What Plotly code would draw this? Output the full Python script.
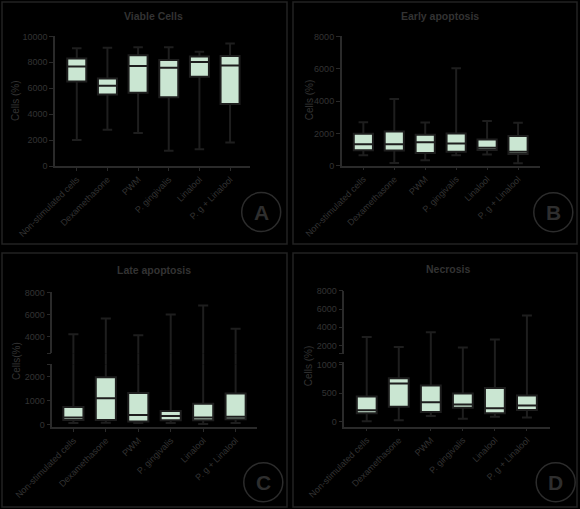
import plotly.graph_objects as go

W, H = 580, 509

groups = ["Non-stimulated cells", "Dexamethasone", "PWM",
          "P. gingivalis", "Linalool", "P. g + Linalool"]

# Viable cells
viable_low = [2000, 2800, 2550, 1180, 1300, 1820]
viable_q1 = [6520, 5520, 5650, 5300, 6880, 4780]
viable_med = [7680, 6190, 7720, 7570, 8030, 7750]
viable_q3 = [8290, 6750, 8540, 8180, 8440, 8490]
viable_high = [9080, 9130, 9160, 9160, 8820, 9440]

# Early apoptosis
early_low = [650, 160, 330, 640, 700, 150]
early_q1 = [960, 940, 780, 870, 970, 730]
early_med = [1320, 1330, 1450, 1380, 1110, 860]
early_q3 = [1970, 2120, 1910, 1990, 1620, 1830]
early_high = [2680, 4120, 2670, 6030, 2770, 2650]

# Late apoptosis
late_low = [70, 80, 70, 70, 30, 70]
late_q1 = [190, 190, 130, 180, 180, 220]
late_med = [300, 1110, 400, 360, 300, 330]
late_q3 = [740, 1990, 1330, 570, 880, 1300]
late_high = [4250, 5660, 4150, 6020, 6820, 4740]

# Necrosis
necro_low = [5, 25, 100, 50, 85, 70]
necro_q1 = [145, 260, 170, 245, 145, 205]
necro_med = [200, 670, 340, 300, 235, 285]
necro_q3 = [440, 765, 635, 495, 590, 460]
necro_high = [2910, 1810, 3440, 1770, 2640, 5300]

TXT = "#333333"
AX = "#2a2a2a"
FILL = "#cae6d2"
BOXLINE = "#1e1e1e"
FONT = "Liberation Sans, Arial, sans-serif"


def px(x):
    return x / W


def py(y):
    return 1 - y / H


def add_boxes(fig, low, q1, med, q3, high, xa, ya):
    fig.add_trace(go.Box(
        x=groups, lowerfence=low, q1=q1, median=med, q3=q3, upperfence=high,
        xaxis=xa, yaxis=ya, fillcolor=FILL,
        line=dict(color=BOXLINE, width=2), width=0.62, whiskerwidth=0.5,
        boxpoints=False, showlegend=False, hoverinfo="skip",
    ))


def xaxis_def(x0, x1, rng, anchor):
    return dict(domain=[px(x0), px(x1)], range=rng, anchor=anchor,
                type="category", showline=True, linecolor=AX, linewidth=1.5,
                ticks="outside", ticklen=3, tickcolor=AX, tickwidth=1.2,
                tickangle=-45, tickfont=dict(size=9, color=TXT, family=FONT),
                showgrid=False, zeroline=False, automargin=False)


def yaxis_def(top, bottom, rng, anchor, tickvals, ticktext):
    return dict(domain=[py(bottom), py(top)], range=rng, anchor=anchor,
                showline=True, linecolor=AX, linewidth=1.5,
                ticks="outside", ticklen=4, tickcolor=AX, tickwidth=1.2,
                tickvals=tickvals, ticktext=ticktext,
                tickfont=dict(size=9, color=TXT, family=FONT),
                showgrid=False, zeroline=False, automargin=False)


def gap_axis(top, bottom, rng, anchor):
    # invisible strip between the two halves of a broken axis,
    # only there so the whiskers run through the break
    return dict(domain=[py(bottom), py(top)], range=rng, anchor=anchor,
                visible=False, showgrid=False, zeroline=False)


def label(fig, text, x, y, size, color=TXT, angle=0):
    fig.add_annotation(text=text, x=px(x), y=py(y), xref="paper", yref="paper",
                       xanchor="center", yanchor="middle", showarrow=False,
                       textangle=angle, font=dict(size=size, color=color, family=FONT))


fig = go.Figure()

add_boxes(fig, viable_low, viable_q1, viable_med, viable_q3, viable_high, "x", "y")
add_boxes(fig, early_low, early_q1, early_med, early_q3, early_high, "x2", "y2")
for ya in ["y3", "y5", "y7"]:
    add_boxes(fig, late_low, late_q1, late_med, late_q3, late_high, "x3", ya)
for ya in ["y4", "y6", "y8"]:
    add_boxes(fig, necro_low, necro_q1, necro_med, necro_q3, necro_high, "x4", ya)

fig.update_layout(
    width=W, height=H,
    margin=dict(l=0, r=0, t=0, b=0),
    paper_bgcolor="#000000", plot_bgcolor="rgba(0,0,0,0)",
    font=dict(family=FONT, color=TXT),
    xaxis=xaxis_def(55, 250, [-0.71, 5.65], "y"),
    xaxis2=xaxis_def(341.7, 540, [-0.70, 5.71], "y2"),
    xaxis3=xaxis_def(52.3, 256.7, [-0.65, 5.65], "y3"),
    xaxis4=xaxis_def(344.3, 550, [-0.70, 5.72], "y4"),
    yaxis=yaxis_def(35.7, 166, [0, 10050], "x",
                    [0, 2000, 4000, 6000, 8000, 10000],
                    ["0", "2000", "4000", "6000", "8000", "10000"]),
    yaxis2=yaxis_def(35.7, 165.7, [0, 8040], "x2",
                     [0, 2000, 4000, 6000, 8000],
                     ["0", "2000", "4000", "6000", "8000"]),
    yaxis3=yaxis_def(364.3, 427, [-100, 2530], "x3",
                     [0, 1000, 2000, 2515], ["0", "1000", "2000", ""]),
    yaxis5=yaxis_def(292, 353.3, [2530, 8040], "x3",
                     [2545, 4000, 6000, 8000], ["", "4000", "6000", "8000"]),
    yaxis7=gap_axis(353.3, 364.3, [2530, 2540], "x3"),
    yaxis4=yaxis_def(362, 426.7, [-90, 1050], "x4",
                     [0, 500, 1000, 1045], ["0", "500", "1000", ""]),
    yaxis6=yaxis_def(290.5, 354, [1050, 8040], "x4",
                     [1058, 2000, 4000, 6000, 8000],
                     ["", "2000", "4000", "6000", "8000"]),
    yaxis8=gap_axis(354, 362, [1050, 1060], "x4"),
)

# panel frames
for x0, y0, x1, y1 in [(2, 2, 287, 244), (293, 2, 577, 244),
                       (2, 253, 287, 507), (293, 253, 577, 507)]:
    fig.add_shape(type="rect", xref="paper", yref="paper",
                  x0=px(x0), x1=px(x1), y0=py(y1), y1=py(y0),
                  line=dict(color="#222222", width=1.5))

# panel titles
for txt, x, y in [("Viable Cells", 153, 15.7), ("Early apoptosis", 440, 15.7),
                  ("Late apoptosis", 154.3, 270), ("Necrosis", 448.3, 269.3)]:
    label(fig, "<b>" + txt + "</b>", x, y, 10.5)

# y axis titles
for txt, x, y in [("Cells (%)", 15, 101), ("Cells (%)", 309, 100.3),
                  ("Cells(%)", 16, 361), ("Cells (%)", 308.3, 366)]:
    label(fig, txt, x, y, 10, angle=-90)

# panel letters
for letter, cx, cy in [("A", 261.2, 212), ("B", 553.3, 212.3),
                       ("C", 263.3, 482.3), ("D", 555.7, 482.3)]:
    r = 19.5
    fig.add_shape(type="circle", xref="paper", yref="paper",
                  x0=px(cx - r), x1=px(cx + r), y0=py(cy + r), y1=py(cy - r),
                  line=dict(color="#2c2c2c", width=1.5))
    label(fig, "<b>" + letter + "</b>", cx, cy, 21, color="#2e2e2e")

# the page has a default 8px body margin; drop it so the figure sits at 0,0
fig.write_html("out.html", config={"displayModeBar": False},
               post_script="document.body.style.margin='0';")
